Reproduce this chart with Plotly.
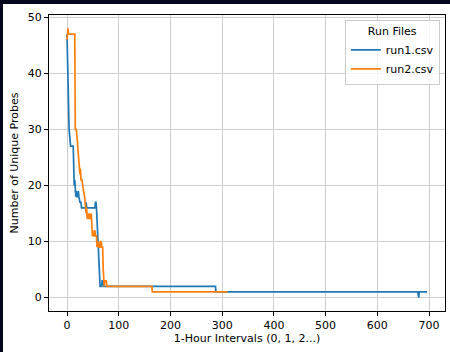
import plotly.graph_objects as go

# run1.csv: hour index vs number of unique probes (change points)
run1_x = [0, 1, 2, 3, 4, 5, 6, 7, 12, 13, 14, 15, 16, 17, 18, 19, 21, 22, 23, 25, 27, 28,
          36, 37, 38, 54, 55, 56, 57, 58, 59, 60, 61, 62, 63, 64, 67, 68, 70, 71,
          287, 288, 678, 679, 680, 681, 696]
run1_y = [47, 41, 36, 32, 30, 29, 28, 27, 27, 21, 20, 21, 19, 18, 19, 18, 18, 19, 18, 17, 17, 16,
          16, 17, 16, 16, 17, 17, 16, 14, 12, 9, 6, 4, 3, 2, 2, 3, 3, 2,
          2, 1, 1, 0, 0, 1, 1]

# run2.csv
run2_x = [0, 1, 2, 3, 15, 16, 18, 19, 20, 21, 22, 23, 24, 25, 26, 27, 29, 30, 32, 34, 35, 36,
          37, 38, 39, 41, 42, 44, 45, 47, 48, 49, 50, 51, 53, 54, 55, 57, 58, 59, 60, 61,
          62, 64, 65, 66, 67, 69, 70, 71, 72, 73, 76, 77, 164, 165, 310]
run2_y = [46, 48, 48, 47, 47, 30, 30, 29, 28, 27, 26, 24, 23, 22, 23, 21, 21, 20, 19, 18, 17, 16,
          15, 16, 14, 15, 14, 15, 14, 15, 12, 11, 12, 11, 11, 12, 11, 11, 9, 10, 9, 10,
          9, 9, 10, 10, 9, 9, 5, 2, 2, 3, 3, 2, 2, 1, 1]

x_ticks = [0, 100, 200, 300, 400, 500, 600, 700]
y_ticks = [0, 10, 20, 30, 40, 50]

FONT = "DejaVu Sans"

fig = go.Figure()
fig.add_trace(go.Scatter(x=run1_x, y=run1_y, mode="lines", name="run1.csv",
                         line=dict(color="#1f77b4", width=1.7)))
fig.add_trace(go.Scatter(x=run2_x, y=run2_y, mode="lines", name="run2.csv",
                         line=dict(color="#ff7f0e", width=1.7)))

axis_common = dict(showline=True, linecolor="black", linewidth=1, mirror=True,
                   ticks="outside", ticklen=4, tickwidth=1, tickcolor="black",
                   showgrid=True, gridcolor="#cdcdcd", gridwidth=1, zeroline=False,
                   tickfont=dict(family=FONT, size=11, color="black"))

fig.update_layout(
    width=450, height=352,
    margin=dict(l=49, r=5, t=15, b=41),
    paper_bgcolor="white", plot_bgcolor="white",
    font=dict(family=FONT, size=11, color="black"),
    xaxis=dict(range=[-34.8, 730.8], tickvals=x_ticks,
               title=dict(text="1-Hour Intervals (0, 1, 2...)", standoff=3,
                          font=dict(family=FONT, size=11)),
               **axis_common),
    yaxis=dict(range=[-2.4, 50.4], tickvals=y_ticks,
               title=dict(text="Number of Unique Probes", standoff=6,
                          font=dict(family=FONT, size=11)),
               **axis_common),
    legend=dict(x=0.987, y=0.983, xanchor="right", yanchor="top",
                bgcolor="rgba(255,255,255,0.8)", bordercolor="#cccccc", borderwidth=1,
                title=dict(text="Run Files", side="top center",
                           font=dict(family=FONT, size=11)),
                font=dict(family=FONT, size=11), itemwidth=30, tracegroupgap=0),
    showlegend=True,
)

# dark screenshot border (top and left edges)
fig.add_shape(type="rect", xref="paper", yref="paper",
              x0=-49/396 - 0.01, x1=401/396 + 0.01, y0=(348-41)/296, y1=(352-41)/296 + 0.01,
              fillcolor="#05051e", line=dict(width=0), layer="above")
fig.add_shape(type="rect", xref="paper", yref="paper",
              x0=-49/396 - 0.01, x1=(3-49)/396, y0=-41/296 - 0.01, y1=(352-41)/296 + 0.01,
              fillcolor="#05051e", line=dict(width=0), layer="above")

fig.write_html("out.html", config={"displayModeBar": False},
               post_script="document.body.style.margin='0';document.body.style.overflow='hidden';")
